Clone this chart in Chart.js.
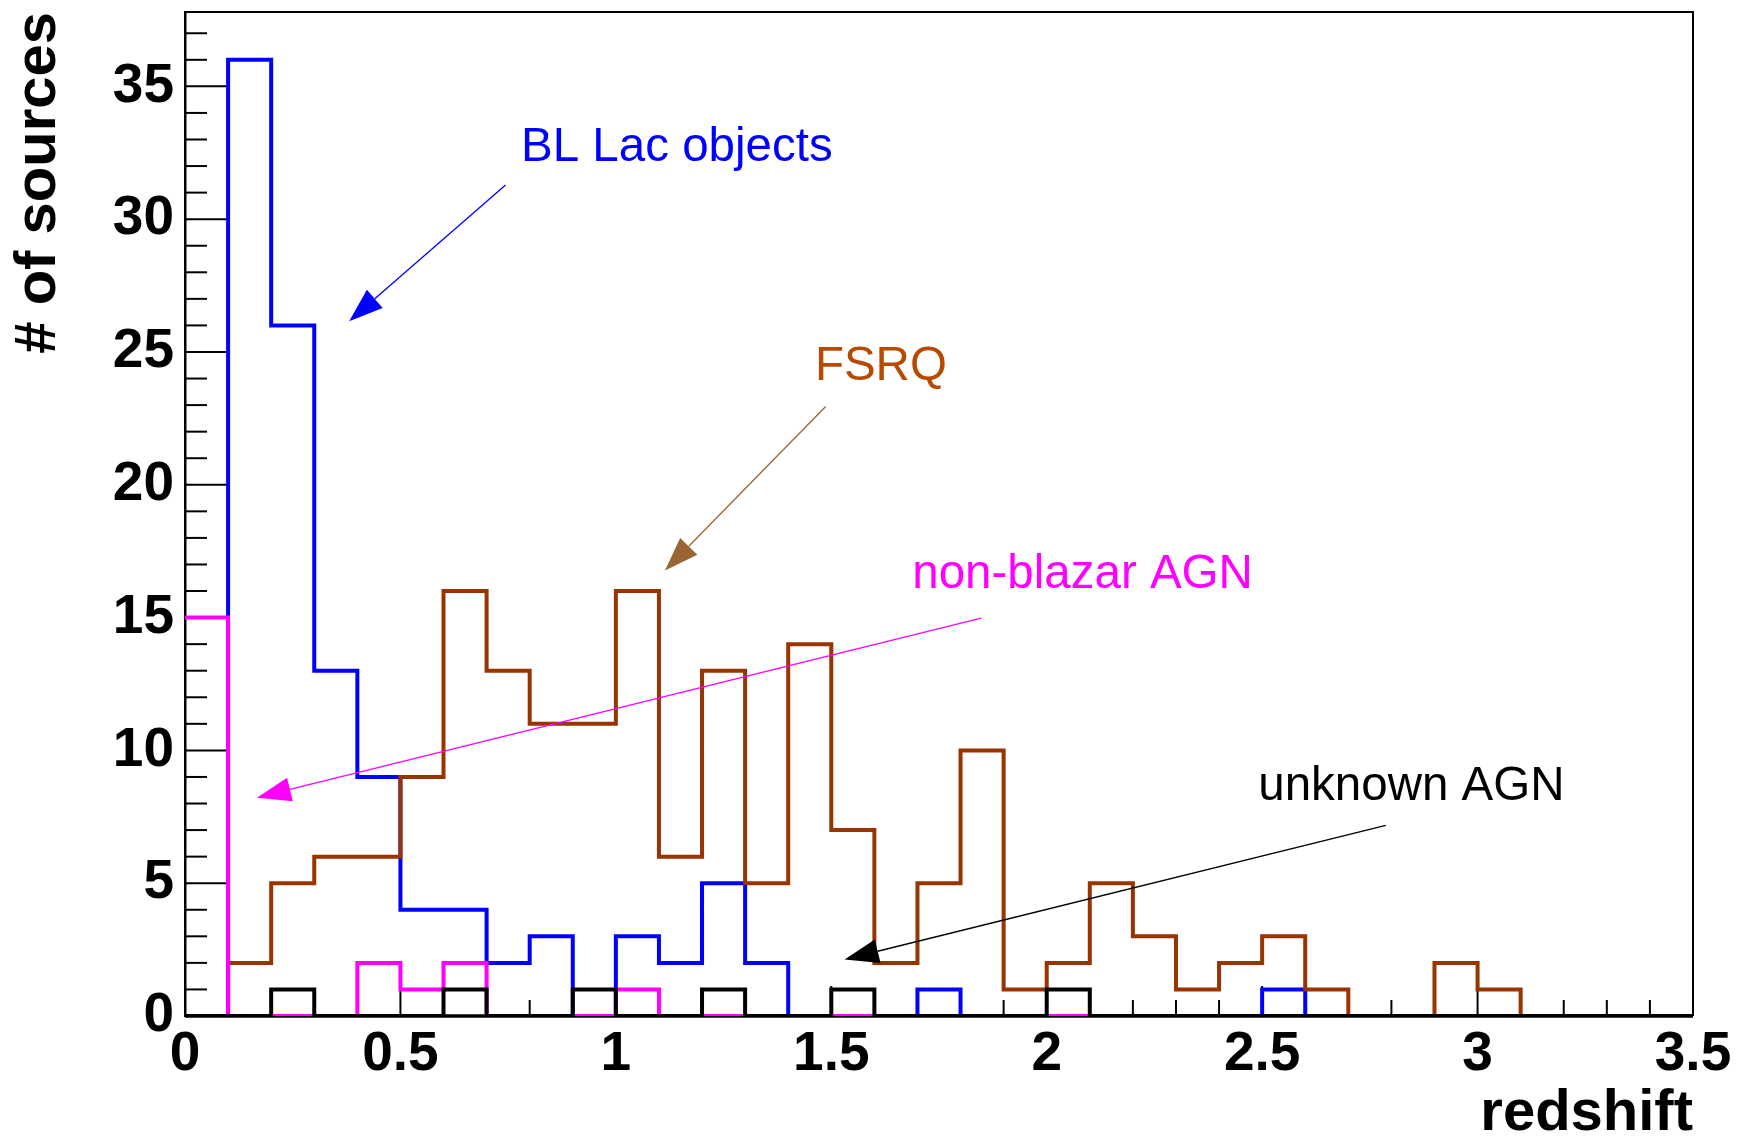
<!DOCTYPE html>
<html>
<head>
<meta charset="utf-8">
<title>Redshift distribution</title>
<script src="https://cdn.jsdelivr.net/npm/chart.js@4.4.1/dist/chart.umd.min.js"></script>
<style>
  html, body { margin: 0; padding: 0; background: #fff; }
  #wrap { width: 1738px; height: 1145px; }
</style>
</head>
<body>
<div id="wrap"><canvas id="zChart" width="1738" height="1145"></canvas></div>
<script>
// left edges of the redshift bins (width 0.1)
const binLow = [0.0, 0.1, 0.2, 0.3, 0.4, 0.5, 0.6, 0.7, 0.8, 0.9,
                1.0, 1.1, 1.2, 1.3, 1.4, 1.5, 1.6, 1.7, 1.8, 1.9,
                2.0, 2.1, 2.2, 2.3, 2.4, 2.5, 2.6, 2.7, 2.8, 2.9,
                3.0, 3.1, 3.2, 3.3, 3.4];
const binWidth = 0.1;

// counts per bin
const blLac     = [0, 36, 26, 13, 9, 4, 4, 2, 3, 0,  3, 2, 5, 2, 0, 0, 0, 1, 0, 0,  0, 0, 0, 0, 0, 1, 0, 0, 0, 0,  0, 0, 0, 0, 0];
const fsrq      = [0, 2, 5, 6, 6, 9, 16, 13, 11, 11,  16, 6, 13, 5, 14, 7, 2, 5, 10, 1,  2, 5, 3, 1, 2, 3, 1, 0, 0, 2,  1, 0, 0, 0, 0];
const nonBlazar = [15, 0, 0, 0, 2, 1, 2, 0, 0, 0,  1, 0, 0, 0, 0, 0, 0, 0, 0, 0,  0, 0, 0, 0, 0, 0, 0, 0, 0, 0,  0, 0, 0, 0, 0];
const unknown   = [0, 0, 1, 0, 0, 0, 1, 0, 0, 1,  0, 0, 1, 0, 0, 1, 0, 0, 0, 0,  1, 0, 0, 0, 0, 0, 0, 0, 0, 0,  0, 0, 0, 0, 0];

const xTickLabels = ['0', '0.5', '1', '1.5', '2', '2.5', '3', '3.5'];
const yTickLabels = ['0', '5', '10', '15', '20', '25', '30', '35'];

// annotations: label position and arrow (tail -> tip), in data units
const labels = [
  { text: 'BL Lac objects', x: 0.78, y: 32.7, color: '#0000ff' },
  { text: 'FSRQ', x: 1.462, y: 24.45, color: '#b84a00' },
  { text: 'non-blazar AGN', x: 1.688, y: 16.6, color: '#ff00ff' },
  { text: 'unknown AGN', x: 2.491, y: 8.64, color: '#000000' }
];
const arrows = [
  { from: [0.744, 31.29], to: [0.381, 26.16], color: '#0000ff', head: '#0000ff' },
  { from: [1.487, 22.95], to: [1.114, 16.77], color: '#9a6633', head: '#996633' },
  { from: [1.848, 14.98], to: [0.167, 8.22], color: '#ff00ff', head: '#ff00ff' },
  { from: [2.787, 7.18], to: [1.531, 2.13], color: '#000000', head: '#000000' }
];

function histPoints(counts) {
  const pts = binLow.map((x, i) => ({ x: x, y: counts[i] }));
  pts.push({ x: binLow[binLow.length - 1] + binWidth, y: counts[counts.length - 1] });
  return pts;
}

function histSet(label, counts, color, order) {
  return {
    label: label,
    data: histPoints(counts),
    stepped: true,
    borderColor: color,
    borderWidth: 4,
    pointRadius: 0,
    fill: false,
    order: order
  };
}

// ROOT-like frame and minor ticks, under the histograms
const framePlugin = {
  id: 'frame',
  beforeDatasetsDraw(chart) {
    const ctx = chart.ctx;
    const a = chart.chartArea;
    const xs = chart.scales.x;
    const ys = chart.scales.y;
    ctx.save();
    ctx.strokeStyle = '#000';
    ctx.lineWidth = 2;
    // y ticks, one per source, long every 5
    for (let v = 0; v <= 37; v++) {
      const py = ys.getPixelForValue(v);
      const len = v % 5 === 0 ? 44 : 22;
      ctx.beginPath();
      ctx.moveTo(a.left, py);
      ctx.lineTo(a.left + len, py);
      ctx.stroke();
    }
    // x ticks every 0.1, long every 0.5
    for (let k = 0; k <= 35; k++) {
      const px = xs.getPixelForValue(k / 10);
      const len = k % 5 === 0 ? 30 : 16;
      ctx.beginPath();
      ctx.moveTo(px, a.bottom);
      ctx.lineTo(px, a.bottom - len);
      ctx.stroke();
    }
    ctx.beginPath();
    ctx.moveTo(a.left, a.bottom);
    ctx.lineTo(a.left, a.top);
    ctx.lineTo(a.right, a.top);
    ctx.lineTo(a.right, a.bottom);
    ctx.stroke();
    ctx.lineWidth = 3.5;
    ctx.beginPath();
    ctx.moveTo(a.left, a.bottom);
    ctx.lineTo(a.right, a.bottom);
    ctx.stroke();
    ctx.restore();
  }
};

// arrows and text labels on top
const notesPlugin = {
  id: 'notes',
  afterDatasetsDraw(chart) {
    const ctx = chart.ctx;
    const xs = chart.scales.x;
    const ys = chart.scales.y;
    ctx.save();
    arrows.forEach(ar => {
      const x0 = xs.getPixelForValue(ar.from[0]), y0 = ys.getPixelForValue(ar.from[1]);
      const x1 = xs.getPixelForValue(ar.to[0]), y1 = ys.getPixelForValue(ar.to[1]);
      const ang = Math.atan2(y1 - y0, x1 - x0);
      const hl = 34, hw = 12;
      const bx = x1 - hl * Math.cos(ang), by = y1 - hl * Math.sin(ang);
      ctx.strokeStyle = ar.color;
      ctx.lineWidth = 1.3;
      ctx.beginPath();
      ctx.moveTo(x0, y0);
      ctx.lineTo(bx, by);
      ctx.stroke();
      ctx.fillStyle = ar.head;
      ctx.beginPath();
      ctx.moveTo(x1, y1);
      ctx.lineTo(bx + hw * Math.sin(ang), by - hw * Math.cos(ang));
      ctx.lineTo(bx - hw * Math.sin(ang), by + hw * Math.cos(ang));
      ctx.closePath();
      ctx.fill();
    });

    ctx.font = '47.5px "Liberation Sans", Arial, sans-serif';
    ctx.textAlign = 'left';
    ctx.textBaseline = 'middle';
    labels.forEach(l => {
      ctx.fillStyle = l.color;
      ctx.fillText(l.text, xs.getPixelForValue(l.x), ys.getPixelForValue(l.y));
    });
    ctx.restore();
  }
};

const ctx = document.getElementById('zChart');
new Chart(ctx, {
  type: 'line',
  data: {
    datasets: [
      histSet('unknown AGN', unknown, '#000000', 0),
      histSet('non-blazar AGN', nonBlazar, '#ff00ff', 1),
      histSet('FSRQ', fsrq, '#993300', 2),
      histSet('BL Lac objects', blLac, '#0000ff', 3)
    ]
  },
  options: {
    responsive: false,
    animation: false,
    layout: { autoPadding: false, padding: { top: 12, right: 45, left: 0, bottom: 0 } },
    plugins: {
      legend: { display: false },
      tooltip: { enabled: false }
    },
    scales: {
      x: {
        type: 'linear',
        min: 0,
        max: 3.5,
        grid: { display: false, drawTicks: false },
        border: { display: false },
        ticks: {
          stepSize: 0.5,
          padding: 6,
          color: '#000',
          maxRotation: 0,
          autoSkip: false,
          includeBounds: false,
          font: { family: '"Liberation Sans", Arial, sans-serif', size: 55, weight: 'bold' },
          callback: function(value) {
            const i = Math.round(value * 2);
            return xTickLabels[i] !== undefined ? xTickLabels[i] : '';
          }
        },
        title: {
          display: true,
          text: 'redshift',
          align: 'end',
          color: '#000',
          padding: { top: 0, bottom: 2 },
          font: { family: '"Liberation Sans", Arial, sans-serif', size: 58, weight: 'bold', lineHeight: 1 }
        },
        afterFit: function(scale) {
          scale.height = 129;
          scale.paddingLeft = 0;
          scale.paddingRight = 0;
        }
      },
      y: {
        type: 'linear',
        min: 0,
        max: 37.8,
        grid: { display: false, drawTicks: false },
        border: { display: true, color: '#000', width: 2.5 },
        ticks: {
          stepSize: 5,
          padding: 11,
          color: '#000',
          autoSkip: false,
          includeBounds: false,
          font: { family: '"Liberation Sans", Arial, sans-serif', size: 55, weight: 'bold' },
          callback: function(value) {
            const i = Math.round(value / 5);
            return yTickLabels[i] !== undefined ? yTickLabels[i] : '';
          }
        },
        title: {
          display: true,
          text: '# of sources',
          align: 'end',
          color: '#000',
          padding: { top: 10, bottom: 0 },
          font: { family: '"Liberation Sans", Arial, sans-serif', size: 58, weight: 'bold', lineHeight: 1 }
        },
        afterFit: function(scale) {
          scale.width = 185;
          scale.paddingTop = 0;
          scale.paddingBottom = 0;
        }
      }
    }
  },
  plugins: [framePlugin, notesPlugin]
});
</script>
</body>
</html>
